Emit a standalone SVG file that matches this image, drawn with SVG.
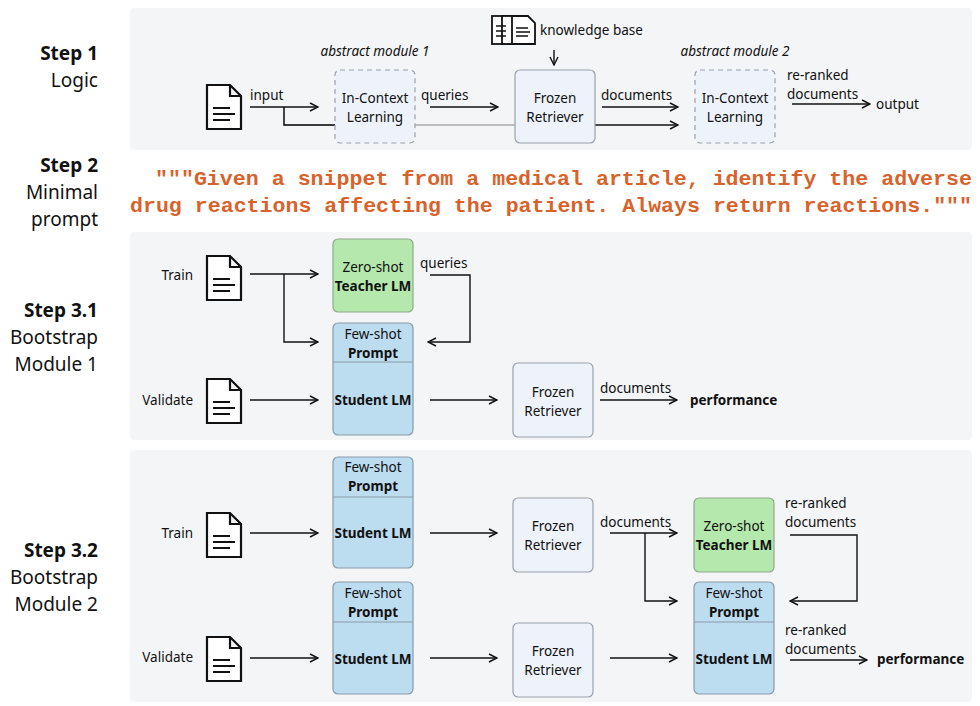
<svg xmlns="http://www.w3.org/2000/svg" width="980" height="706" viewBox="0 0 980 706">
<defs>
<marker id="ah" viewBox="0 0 10 10" refX="9" refY="5" markerWidth="10" markerHeight="10" markerUnits="userSpaceOnUse" orient="auto"><path d="M1,1 L9,5 L1,9" fill="none" stroke="#111" stroke-width="1.4"/></marker>
<symbol id="doc" viewBox="0 0 36 46" overflow="visible"><path d="M1,1 H24 L35,12 V45 H1 Z M24,1 V12 H35" fill="#fff" stroke="#111" stroke-width="2.2" stroke-linejoin="miter"/><path d="M7,24 H24 M7,30 H29 M7,36 H24" stroke="#111" stroke-width="2"/></symbol>
<style>
.panel{fill:#f4f5f7}
.t{font-family:"Noto Sans","Liberation Sans",sans-serif;font-size:13.5px;fill:#111}
.c{text-anchor:middle}
.b{font-weight:bold}
.r{text-anchor:end}
.step{font-family:"Noto Sans","Liberation Sans",sans-serif;font-size:19px;fill:#111;text-anchor:end}
.ln{fill:none;stroke:#111;stroke-width:1.4}
.a{marker-end:url(#ah)}
.box{fill:#eef2fa;stroke:#9aa1ab;stroke-width:1.2}
.dash{fill:#eef2fa;stroke:#9aa1ab;stroke-width:1.2;stroke-dasharray:5,4}
.green{fill:#b5e8ad;stroke:#8fa88c;stroke-width:1.2}
.blue{fill:#bcdcf0;stroke:#8a9aa8;stroke-width:1.2}
.mono{font-family:"Liberation Mono","DejaVu Sans Mono",monospace;font-size:20.5px;font-weight:bold;fill:#d9622b}
</style>
</defs>
<rect class="panel" x="130" y="8" width="842" height="142" rx="4"/>
<rect class="panel" x="130" y="232" width="842" height="208" rx="4"/>
<rect class="panel" x="130" y="450" width="842" height="252" rx="4"/>

<g id="labels">
<text class="step b" x="98" y="60">Step 1</text><text class="step" x="98" y="87">Logic</text>
<text class="step b" x="98" y="172">Step 2</text><text class="step" x="98" y="199">Minimal</text><text class="step" x="98" y="226">prompt</text>
<text class="step b" x="98" y="317">Step 3.1</text><text class="step" x="98" y="344">Bootstrap</text><text class="step" x="98" y="371">Module 1</text>
<text class="step b" x="98" y="557">Step 3.2</text><text class="step" x="98" y="584">Bootstrap</text><text class="step" x="98" y="611">Module 2</text>
<text class="mono" x="155" y="185" textLength="817" lengthAdjust="spacingAndGlyphs">"""Given a snippet from a medical article, identify the adverse</text>
<text class="mono" x="130" y="212" textLength="842" lengthAdjust="spacingAndGlyphs">drug reactions affecting the patient. Always return reactions."""</text>
</g>

<g id="connectors">
<path d="M284,107 V125 H515" fill="none" stroke="#aaa" stroke-width="1.4"/>
<path d="M284,107 V125 H335" class="ln"/>
<path d="M250,107 H318" class="ln a"/>
<path d="M430,107 H498" class="ln a"/>
<path d="M554,50 V65" class="ln a"/>
<path d="M602,107 H678" class="ln a"/>
<path d="M595,125 H678" class="ln a"/>
<path d="M792,104 H870" class="ln a"/>
<path d="M250,274 H318" class="ln a"/>
<path d="M284,274 V342 H318" class="ln a"/>
<path d="M430,275 H470 V342 H428" class="ln a"/>
<path d="M250,400 H318" class="ln a"/>
<path d="M430,400 H497" class="ln a"/>
<path d="M600,400 H677" class="ln a"/>
<path d="M250,533 H318" class="ln a"/>
<path d="M430,533 H497" class="ln a"/>
<path d="M610,533 H677" class="ln a"/>
<path d="M645,533 V601 H677" class="ln a"/>
<path d="M790,535 H857 V601 H790" class="ln a"/>
<path d="M790,660 H867" class="ln a"/>
<path d="M250,658 H318" class="ln a"/>
<path d="M430,658 H497" class="ln a"/>
<path d="M610,658 H677" class="ln a"/>
</g>

<g id="step1">
<use href="#doc" x="206" y="84" width="36" height="46"/>
<text class="t" x="250" y="100">input</text>
<g id="icl1"><rect class="dash" x="335" y="70" width="80" height="73" rx="5"/><text class="t c" x="375" y="103">In-Context</text><text class="t c" x="375" y="122">Learning</text></g>
<text class="t c" x="375" y="56" font-style="italic" font-size="11">abstract module 1</text>
<text class="t" x="421" y="100">queries</text>
<g id="kb"><rect x="492" y="16" width="18" height="28" fill="#fff" stroke="#111" stroke-width="1.8"/><rect x="502" y="16" width="18" height="28" fill="#fff" stroke="#111" stroke-width="1.8"/><path d="M512,16 H528 L535,23 V44 H512 Z" fill="#fff" stroke="#111" stroke-width="1.8"/><path d="M496,26 H506 M496,31 H506 M496,36 H506 M516,28 H528 M516,32 H530 M516,36 H528" stroke="#111" stroke-width="1.3"/><text class="t" x="540" y="35">knowledge base</text></g>
<g id="fr1"><rect class="box" x="515" y="70" width="80" height="73" rx="5"/><text class="t c" x="555" y="103">Frozen</text><text class="t c" x="555" y="122">Retriever</text></g>
<text class="t" x="601" y="100">documents</text>
<g id="icl2"><rect class="dash" x="695" y="70" width="80" height="73" rx="5"/><text class="t c" x="735" y="103">In-Context</text><text class="t c" x="735" y="122">Learning</text></g>
<text class="t c" x="735" y="56" font-style="italic" font-size="11">abstract module 2</text>
<text class="t" x="787" y="80">re-ranked</text><text class="t" x="787" y="99">documents</text>
<text class="t" x="876" y="109">output</text>
</g>

<g id="step31">
<text class="t r" x="193" y="280">Train</text><use href="#doc" x="206" y="255" width="36" height="46"/>
<text class="t r" x="193" y="405">Validate</text><use href="#doc" x="206" y="378" width="36" height="46"/>
<g id="teacher1"><rect class="green" x="333" y="239" width="80" height="73" rx="5"/><text class="t c" x="373" y="272">Zero-shot</text><text class="t c b" x="373" y="291">Teacher LM</text></g>
<text class="t" x="420" y="268">queries</text>
<g id="student1"><rect class="blue" x="333" y="323" width="80" height="112" rx="5"/><path d="M333,362 H413" stroke="#8a9aa8" stroke-width="1.2"/><text class="t c" x="373" y="339">Few-shot</text><text class="t c b" x="373" y="358">Prompt</text><text class="t c b" x="373" y="405">Student LM</text></g>
<g id="fr31"><rect class="box" x="513" y="363" width="80" height="74" rx="5"/><text class="t c" x="553" y="397">Frozen</text><text class="t c" x="553" y="416">Retriever</text></g>
<text class="t" x="600" y="393">documents</text>
<text class="t b" x="690" y="405">performance</text>
</g>

<g id="step32">
<text class="t r" x="193" y="538">Train</text><use href="#doc" x="206" y="512" width="36" height="46"/>
<text class="t r" x="193" y="662">Validate</text><use href="#doc" x="206" y="636" width="36" height="46"/>
<g id="student2a"><rect class="blue" x="333" y="457" width="80" height="111" rx="5"/><path d="M333,497 H413" stroke="#8a9aa8" stroke-width="1.2"/><text class="t c" x="373" y="472">Few-shot</text><text class="t c b" x="373" y="491">Prompt</text><text class="t c b" x="373" y="538">Student LM</text></g>
<g id="student2b"><rect class="blue" x="333" y="582" width="80" height="112" rx="5"/><path d="M333,622 H413" stroke="#8a9aa8" stroke-width="1.2"/><text class="t c" x="373" y="598">Few-shot</text><text class="t c b" x="373" y="617">Prompt</text><text class="t c b" x="373" y="664">Student LM</text></g>
<g id="fr32a"><rect class="box" x="513" y="498" width="80" height="74" rx="5"/><text class="t c" x="553" y="531">Frozen</text><text class="t c" x="553" y="550">Retriever</text></g>
<g id="fr32b"><rect class="box" x="513" y="623" width="80" height="74" rx="5"/><text class="t c" x="553" y="656">Frozen</text><text class="t c" x="553" y="675">Retriever</text></g>
<text class="t" x="600" y="527">documents</text>
<g id="teacher2"><rect class="green" x="694" y="498" width="80" height="74" rx="5"/><text class="t c" x="734" y="531">Zero-shot</text><text class="t c b" x="734" y="550">Teacher LM</text></g>
<text class="t" x="785" y="508">re-ranked</text><text class="t" x="785" y="527">documents</text>
<g id="student2c"><rect class="blue" x="694" y="582" width="80" height="112" rx="5"/><path d="M694,622 H774" stroke="#8a9aa8" stroke-width="1.2"/><text class="t c" x="734" y="598">Few-shot</text><text class="t c b" x="734" y="617">Prompt</text><text class="t c b" x="734" y="664">Student LM</text></g>
<text class="t" x="785" y="635">re-ranked</text><text class="t" x="785" y="654">documents</text>
<text class="t b" x="877" y="664">performance</text>
</g>
</svg>
